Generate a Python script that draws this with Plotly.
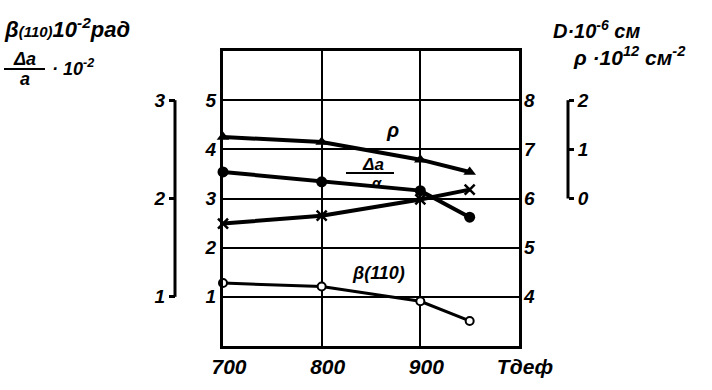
import plotly.graph_objects as go

W, H = 712, 390

# ---- data ----
T = [700, 800, 900, 950]
beta_110 = [1.28, 1.21, 0.91, 0.51]        # β(110)·10^-2 рад (left main axis)
delta_a = [2.27, 2.17, 2.08, 1.81]         # Δa/a·10^-2 (left bracket axis)
rho = [1.25, 1.15, 0.79, 0.54]             # ρ·10^12 см^-2 (right bracket axis)
D = [5.49, 5.65, 5.98, 6.18]               # D·10^-6 см (right main axis)

x_ticks = [700, 800, 900, 1000]
x_ticktext = ["700", "800", "900", "Тдеф"]
left_ticks = [1, 2, 3, 4, 5]
right_ticks = [4, 5, 6, 7, 8]
lbr_ticks = [1, 2, 3]
rbr_ticks = [0, 1, 2]

def px(x):
    return x / W

def py(y):
    return 1 - y / H

FONT = dict(family="Liberation Sans", color="black", style="italic", weight="bold")
def f(size):
    d = dict(FONT)
    d["size"] = size
    return d

fig = go.Figure()

line_w = 4
fig.add_trace(go.Scatter(x=T, y=rho, yaxis="y4", mode="lines+markers", cliponaxis=False,
                         line=dict(color="black", width=line_w),
                         marker=dict(symbol="triangle-up", size=11, color="black"),
                         showlegend=False))
fig.add_trace(go.Scatter(x=T, y=delta_a, yaxis="y3", mode="lines+markers", cliponaxis=False,
                         line=dict(color="black", width=line_w),
                         marker=dict(symbol="circle", size=11, color="black"),
                         showlegend=False))
fig.add_trace(go.Scatter(x=T, y=D, yaxis="y2", mode="lines+markers", cliponaxis=False,
                         line=dict(color="black", width=line_w),
                         marker=dict(symbol="x-thin", size=10, color="black",
                                     line=dict(color="black", width=2.5)),
                         showlegend=False))
fig.add_trace(go.Scatter(x=T, y=beta_110, yaxis="y", mode="lines+markers", cliponaxis=False,
                         line=dict(color="black", width=3),
                         marker=dict(symbol="circle", size=8, color="white",
                                     line=dict(color="black", width=2)),
                         showlegend=False))

x0, x1 = 223, 519
ytop, ybot = 51, 346
ydom = [py(ybot), py(ytop)]

fig.update_layout(
    width=W, height=H,
    margin=dict(l=0, r=0, t=0, b=0, pad=0),
    paper_bgcolor="white", plot_bgcolor="white",
    xaxis=dict(domain=[px(x0), px(x1)], range=[700, 1000], automargin=False,
               tickvals=x_ticks, ticktext=x_ticktext, tickfont=f(21),
               ticklabelshift=6, ticklen=0,
               showgrid=True, gridcolor="black", gridwidth=1.5,
               showline=True, linecolor="black", linewidth=3, mirror=True,
               zeroline=False, anchor="y"),
    yaxis=dict(domain=ydom, range=[0, 6], tickvals=left_ticks, tickfont=f(19),
               ticklen=0, showgrid=True, gridcolor="black", gridwidth=1.5, automargin=False,
               showline=True, linecolor="black", linewidth=3, mirror=True,
               zeroline=False, anchor="x"),
    yaxis2=dict(domain=ydom, range=[3, 9], tickvals=right_ticks, tickfont=f(19),
                overlaying="y", side="right", anchor="x", ticklen=0, automargin=False,
                ticklabelstandoff=4,
                showgrid=False, zeroline=False, showline=False),
    yaxis3=dict(domain=ydom, range=[0.5, 3.5], tickvals=lbr_ticks, tickfont=f(19),
                overlaying="y", side="left", anchor="free", position=px(175), automargin=False,
                ticks="outside", ticklen=6, tickwidth=2.5, tickcolor="black",
                showgrid=False, zeroline=False, showline=False),
    yaxis4=dict(domain=ydom, range=[-3, 3], tickvals=rbr_ticks, tickfont=f(19),
                overlaying="y", side="right", anchor="free", position=px(568), automargin=False,
                ticks="outside", ticklen=5, tickwidth=2.5, tickcolor="black",
                showgrid=False, zeroline=False, showline=False),
)

shapes = [
    dict(type="line", xref="paper", yref="y3", x0=px(175), x1=px(175),
         y0=min(lbr_ticks), y1=max(lbr_ticks), line=dict(color="black", width=3)),
    dict(type="line", xref="paper", yref="y4", x0=px(568), x1=px(568),
         y0=min(rbr_ticks), y1=max(rbr_ticks), line=dict(color="black", width=3)),
    # fraction bars
    dict(type="line", xref="paper", yref="paper", x0=px(4), x1=px(45),
         y0=py(69), y1=py(69), line=dict(color="black", width=2)),
    dict(type="line", xref="paper", yref="paper", x0=px(346), x1=px(394),
         y0=py(173), y1=py(173), line=dict(color="black", width=2)),
]
fig.update_layout(shapes=shapes)

ann = []
def A(x, y, text, size, xanchor="center", yanchor="middle"):
    ann.append(dict(x=px(x), y=py(y), xref="paper", yref="paper", text=text,
                    showarrow=False, font=f(size), xanchor=xanchor, yanchor=yanchor))

A(2, 28, "β<span style='font-size:15px'>(110)</span>10<sup>-2</sup>рад", 22, xanchor="left")
A(24, 59, "Δa", 18)
A(25, 79, "a", 18)
A(50, 67, "· 10<sup>-2</sup>", 18, xanchor="left")
A(551, 30, "D·10<sup>-6</sup> см", 20, xanchor="left")
A(571, 56, "ρ ·10<sup>12</sup> см<sup>-2</sup>", 21, xanchor="left")
A(392, 130, "ρ", 20)
A(373, 164, "Δa", 17)
A(377, 182, "α", 15)
A(378, 273, "β(110)", 18)
fig.update_layout(annotations=ann)

fig.write_html("out.html", config={"displayModeBar": False},
               post_script="document.body.style.margin='0';document.body.style.overflow='hidden';")
